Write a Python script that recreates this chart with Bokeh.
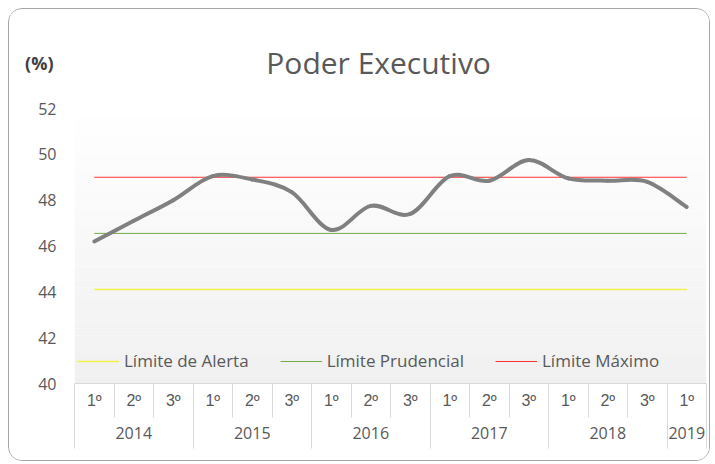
import numpy as np
from bokeh.plotting import figure
from bokeh.models import Range1d, LinearAxis, FixedTicker, Label, Legend, LegendItem
from bokeh.embed import file_html
from bokeh.resources import INLINE

# ---------------- data ----------------
years = ["2014", "2015", "2016", "2017", "2018", "2019"]
quarters_per_year = [3, 3, 3, 3, 3, 1]
quarter_labels = ["1º", "2º", "3º", "1º", "2º", "3º", "1º", "2º", "3º",
                  "1º", "2º", "3º", "1º", "2º", "3º", "1º"]
executivo = [46.2, 47.1, 48.0, 49.05, 48.9, 48.35, 46.7, 47.75, 47.4,
             49.05, 48.85, 49.75, 48.95, 48.85, 48.8, 47.7]
limite_alerta = 44.1
limite_prudencial = 46.55
limite_maximo = 49.0
y_ticks = [40, 42, 44, 46, 48, 50, 52]
title_text = "Poder  Executivo"
unit_text = "(%)"

FONT = "Open Sans"
TXT = "#595959"
GRID = "#d9d9d9"

# layout (pixels)
W, H = 702, 453
LEFT, RIGHT, BOTTOM = 65, 5, 79
PLOT_H = 275                      # pixel height of the 40..52 band
frame_h = H - BOTTOM
y_lo, y_hi = y_ticks[0], y_ticks[-1]
y_top = y_lo + (y_hi - y_lo) * frame_h / PLOT_H   # white header area above 52
header_y = 54.0

n = len(quarter_labels)
xc = np.arange(n) + 0.5  # category centres

p = figure(width=W, height=H, output_backend="svg", toolbar_location=None,
           x_range=Range1d(0, n), y_range=Range1d(y_lo, y_top),
           min_border_left=LEFT, min_border_right=RIGHT, min_border_top=0,
           min_border_bottom=BOTTOM, x_axis_type=None, y_axis_type=None,
           background_fill_color="white", border_fill_color="white",
           outline_line_color=None)
p.styles = {"border": "1px solid #a6a6a6", "border-radius": "14px",
            "overflow": "hidden", "margin-left": "8px", "margin-top": "8px",
            "vertical-align": "top"}

# gradient plot background (40..52 band only)
steps = 40
edges = np.linspace(y_lo, y_hi, steps + 1)
cols = []
for k in range(steps):
    t = (k + 0.5) / steps          # 0 bottom, 1 top
    v = int(round(240 + (255 - 240) * t))
    cols.append("#%02x%02x%02x" % (v, v, v))
bg = p.quad(left=0, right=n, bottom=edges[:-1], top=edges[1:],
            fill_color=cols, line_color=None)
bg.level = "image"

# y axis + grid
minor = [round(a + b, 2) for a in y_ticks[:-1] for b in (0.4, 0.8, 1.2, 1.6)]
yticker = FixedTicker(ticks=y_ticks, minor_ticks=minor)
yaxis = LinearAxis(ticker=yticker, axis_line_color=None, major_tick_line_color=None,
                   minor_tick_line_color=None, major_label_standoff=12,
                   major_label_text_font=FONT, major_label_text_font_size="16px",
                   major_label_text_color=TXT)
p.add_layout(yaxis, "left")
unit_axis = LinearAxis(ticker=FixedTicker(ticks=[header_y]),
                       major_label_overrides={header_y: unit_text},
                       axis_line_color=None, major_tick_line_color=None,
                       minor_tick_line_color=None, major_label_standoff=-24,
                       major_label_text_font=FONT, major_label_text_font_size="18px",
                       major_label_text_font_style="bold",
                       major_label_text_color="#404040")
p.add_layout(unit_axis, "left")
p.ygrid.ticker = yticker
p.ygrid.grid_line_color = GRID
p.ygrid.minor_grid_line_color = "#ebebeb"
p.xgrid.grid_line_color = None

# x axes: quarters then years (table-like)
bounds = np.concatenate([[0], np.cumsum(quarters_per_year)])
all_bounds = [float(b) for b in range(n + 1)]
q_axis = LinearAxis(
    ticker=FixedTicker(ticks=list(xc), minor_ticks=all_bounds),
    major_label_overrides={float(c): lab for c, lab in zip(xc, quarter_labels)},
    axis_line_color=GRID, major_tick_line_color=None,
    minor_tick_line_color=GRID, minor_tick_in=0, minor_tick_out=34,
    major_label_standoff=-26, major_label_text_font="Liberation Sans",
    major_label_text_font_size="16px", major_label_text_color=TXT)
p.add_layout(q_axis, "below")

y_centres = [(bounds[i] + bounds[i + 1]) / 2 for i in range(len(years))]
y_axis2 = LinearAxis(
    ticker=FixedTicker(ticks=y_centres, minor_ticks=[float(b) for b in bounds]),
    major_label_overrides={float(c): y for c, y in zip(y_centres, years)},
    axis_line_color=None, major_tick_line_color=None,
    minor_tick_line_color=GRID, minor_tick_in=6, minor_tick_out=37,
    major_label_standoff=-22, major_label_text_font=FONT,
    major_label_text_font_size="16px", major_label_text_color=TXT)
p.add_layout(y_axis2, "below")

# limit lines
r_al = p.line([xc[0], xc[-1]], [limite_alerta] * 2, line_color="#f5f04a", line_width=1.5)
r_pr = p.line([xc[0], xc[-1]], [limite_prudencial] * 2, line_color="#70ad47", line_width=1)
r_mx = p.line([xc[0], xc[-1]], [limite_maximo] * 2, line_color="#ff3030", line_width=1)

# smoothed series (Catmull-Rom -> cubic Bezier)
ys = np.array(executivo)
x0, y0, x1, y1, cx0, cy0, cx1, cy1 = ([] for _ in range(8))
for i in range(n - 1):
    a = max(i - 1, 0)
    d = min(i + 2, n - 1)
    x0.append(xc[i]); y0.append(ys[i]); x1.append(xc[i + 1]); y1.append(ys[i + 1])
    cx0.append(xc[i] + (xc[i + 1] - xc[a]) / 6); cy0.append(ys[i] + (ys[i + 1] - ys[a]) / 6)
    cx1.append(xc[i + 1] - (xc[d] - xc[i]) / 6); cy1.append(ys[i + 1] - (ys[d] - ys[i]) / 6)
p.bezier(x0=x0, y0=y0, x1=x1, y1=y1, cx0=cx0, cy0=cy0, cx1=cx1, cy1=cy1,
         line_color="#808080", line_width=4, line_cap="round")

# legend
leg = Legend(items=[LegendItem(label="Límite de Alerta", renderers=[r_al]),
                    LegendItem(label="Límite Prudencial", renderers=[r_pr]),
                    LegendItem(label="Límite Máximo", renderers=[r_mx])],
             orientation="horizontal", location=(3, 11), padding=0, margin=0,
             spacing=31, glyph_width=42, glyph_height=20, label_standoff=5,
             label_text_font=FONT, label_text_font_size="17px",
             label_text_color=TXT, background_fill_alpha=0, border_line_alpha=0)
p.add_layout(leg, "center")

# title (inside the white header band of the frame)
p.add_layout(Label(x=308, y=header_y, x_units="screen", y_units="data",
                   text=title_text, text_align="center",
                   text_baseline="middle", text_font=FONT,
                   text_font_size="30px", text_color=TXT))

open("out.html", "w").write(file_html(p, INLINE))
